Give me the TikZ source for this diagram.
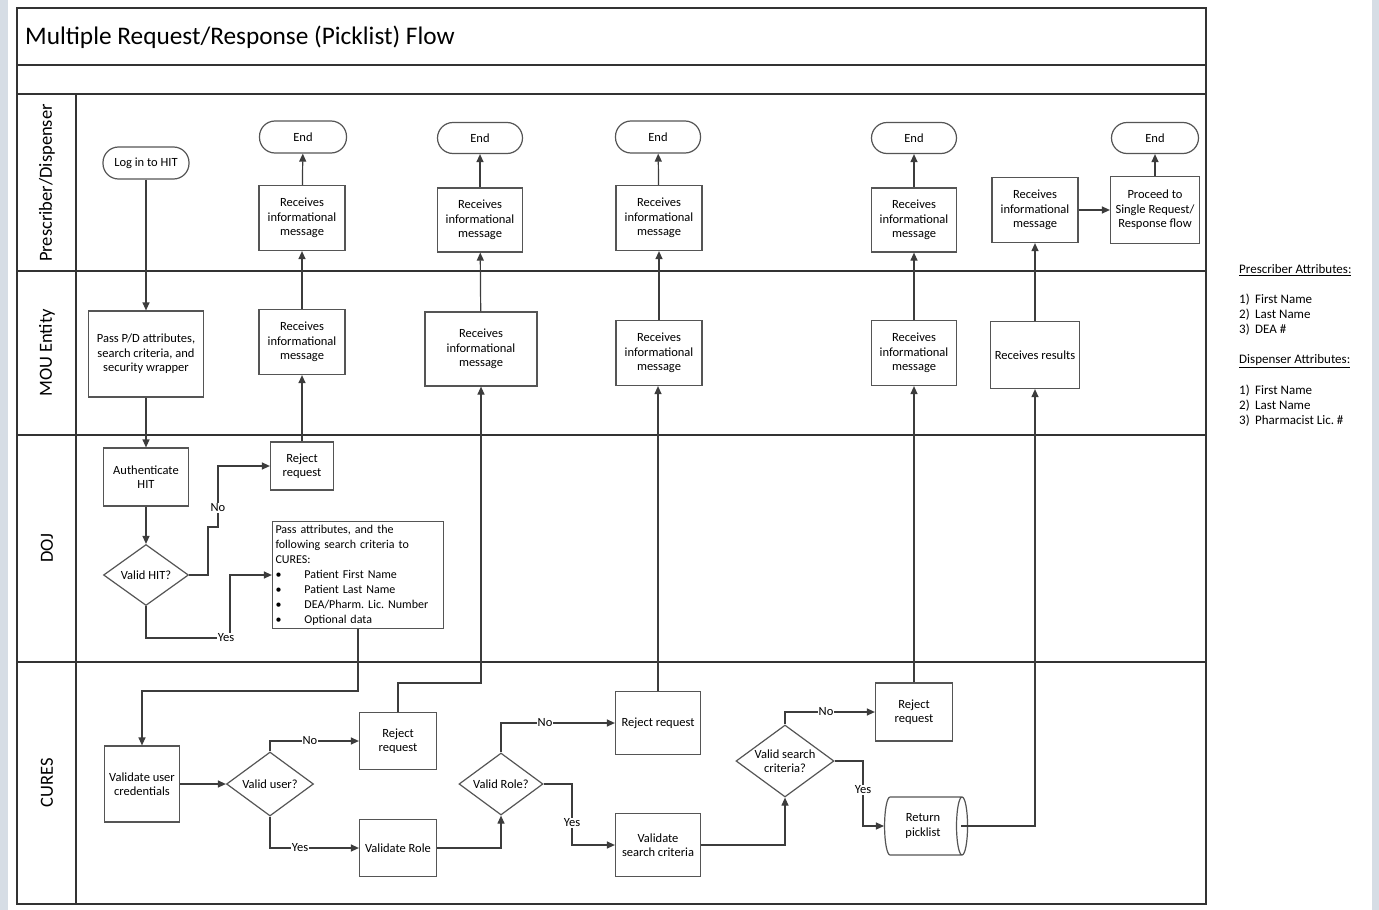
\documentclass[tikz,border=0pt]{standalone}
\usepackage{fontspec}
\setmainfont{Carlito}
\usetikzlibrary{shapes.geometric,arrows.meta,calc}
\frenchspacing
\definecolor{bgside}{HTML}{D6DDE5}
\definecolor{boxline}{HTML}{555555}
\definecolor{conn}{HTML}{3C3C3C}
\definecolor{framec}{HTML}{333333}
\newcommand{\nodefnt}{\fontsize{12.5}{14.5}\selectfont}
\newcommand{\lanefnt}{\fontsize{18.5}{20}\selectfont}
\newcommand{\notefnt}{\fontsize{13}{15.1}\selectfont}
\begin{document}
\begin{tikzpicture}[x=1pt,y=-1pt,
  box/.style={draw=boxline, line width=1.2pt, fill=white, align=center, inner sep=2pt, font=\nodefnt},
  term/.style={box, rounded corners=15.5pt},
  dec/.style={diamond, draw=boxline, line width=1.2pt, fill=white, inner sep=0pt},
  store/.style={cylinder, draw=boxline, line width=1.2pt, fill=white, align=center, inner sep=0pt, font=\nodefnt, aspect=0.45},
  arr/.style={draw=conn, line width=1.2pt, -{Triangle[length=8pt,width=7pt]}},
  lbl/.style={fill=white, inner sep=1pt, font=\nodefnt},
  lane/.style={rotate=90, font=\lanefnt},
  frm/.style={draw=framec, line width=1.4pt}
]
\path[use as bounding box] (0,0) rectangle (1379,910);
\fill[white] (0,0) rectangle (1379,910);
\fill[bgside] (0,0) rectangle (8,910);
\fill[bgside] (1372,0) rectangle (1379,910);

% frame and lanes
\draw[frm] (17,8) rectangle (1206,904);
\draw[frm] (17,65) -- (1206,65);
\draw[frm] (17,94) -- (1206,94);
\draw[frm] (17,271) -- (1206,271);
\draw[frm] (17,435) -- (1206,435);
\draw[frm] (17,662) -- (1206,662);
\draw[frm] (76,94) -- (76,904);

\node[anchor=west, font=\fontsize{25.3}{28}\selectfont, inner sep=0pt] (title) at (25,37) {Multiple Request/Response (Picklist) Flow};

\node[lane] (lane1) at (47,183) {Prescriber/Dispenser};
\node[lane] (lane2) at (47,353) {MOU Entity};
\node[lane] (lane3) at (47,548) {DOJ};
\node[lane] (lane4) at (47,783) {CURES};

% Prescriber/Dispenser lane
\node[term, minimum width=86, minimum height=32] (login) at (146,163) {Log in to HIT};
\node[term, minimum width=87, minimum height=32] (end1) at (303,137) {End};
\node[term, minimum width=85, minimum height=31] (end2) at (480,138) {End};
\node[term, minimum width=85, minimum height=32] (end3) at (658,137) {End};
\node[term, minimum width=85, minimum height=31] (end4) at (914,138) {End};
\node[term, minimum width=87, minimum height=31] (end5) at (1155,138) {End};
\node[box, minimum width=86, minimum height=65] (rp1) at (302,218) {Receives\\informational\\message};
\node[box, minimum width=85, minimum height=64] (rp2) at (480,220) {Receives\\informational\\message};
\node[box, minimum width=86, minimum height=65] (rp3) at (659,218) {Receives\\informational\\message};
\node[box, minimum width=85, minimum height=64] (rp4) at (914,220) {Receives\\informational\\message};
\node[box, minimum width=86, minimum height=65] (rp5) at (1035,210) {Receives\\informational\\message};
\node[box, minimum width=89, minimum height=67] (proceed) at (1155,210) {Proceed to\\Single Request/\\Response flow};

% MOU lane
\node[box, minimum width=115, minimum height=86] (pass) at (146,354) {Pass P/D attributes,\\search criteria, and\\security wrapper};
\node[box, minimum width=86, minimum height=65] (rm1) at (302,342) {Receives\\informational\\message};
\node[box, minimum width=112, minimum height=74] (rm2) at (481,349) {Receives\\informational\\message};
\node[box, minimum width=86, minimum height=65] (rm3) at (659,353) {Receives\\informational\\message};
\node[box, minimum width=85, minimum height=65] (rm4) at (914,353) {Receives\\informational\\message};
\node[box, minimum width=89, minimum height=67] (rres) at (1035,355) {Receives results};

% DOJ lane
\node[box, minimum width=85, minimum height=58] (auth) at (146,477) {Authenticate\\HIT};
\node[dec, minimum width=85, minimum height=61, label={[font=\nodefnt]center:Valid HIT?}] (vhit) at (146,575) {};
\node[box, minimum width=63, minimum height=48] (rejd) at (302,466) {Reject\\request};
\node[box, minimum width=171, minimum height=106, align=left, text width=165, inner sep=3pt, font=\fontsize{12}{15}\selectfont] (passattr) at (358,575)
 {Pass attributes, and the\\following search criteria to\\CURES:\\
  \makebox[29pt][l]{\textbullet}Patient First Name\\
  \makebox[29pt][l]{\textbullet}Patient Last Name\\
  \makebox[29pt][l]{\textbullet}DEA/Pharm. Lic. Number\\
  \makebox[29pt][l]{\textbullet}Optional data};

% CURES lane
\node[box, minimum width=75, minimum height=76] (vuc) at (142,784) {Validate user\\credentials};
\node[dec, minimum width=87, minimum height=64, label={[font=\nodefnt]center:Valid user?}] (vuser) at (270,784) {};
\node[box, minimum width=77, minimum height=57] (rej1) at (398,741) {Reject\\request};
\node[box, minimum width=77, minimum height=57] (vrole) at (398,848) {Validate Role};
\node[dec, minimum width=84, minimum height=62, label={[font=\nodefnt]center:Valid Role?}] (vrd) at (501,784) {};
\node[box, minimum width=85, minimum height=63] (rej2) at (658,723) {Reject request};
\node[box, minimum width=85, minimum height=63] (vsc) at (658,845) {Validate\\search criteria};
\node[dec, minimum width=98, minimum height=72, label={[font=\nodefnt, align=center]center:{Valid search\\criteria?}}] (vsd) at (785,761) {};
\node[box, minimum width=77, minimum height=58] (rej3) at (914,712) {Reject\\request};
\node[store, minimum width=58, minimum height=83] (pick) at (923,826) {Return\\picklist};

% side notes
\node[anchor=north west, align=left, inner sep=0pt, font=\notefnt] (notes) at (1239,264)
 {\underline{Prescriber Attributes:}\\[15.1pt]
  \makebox[16pt][l]{1)}First Name\\
  \makebox[16pt][l]{2)}Last Name\\
  \makebox[16pt][l]{3)}DEA \#\\[15.1pt]
  \underline{Dispenser Attributes:}\\[15.1pt]
  \makebox[16pt][l]{1)}First Name\\
  \makebox[16pt][l]{2)}Last Name\\
  \makebox[16pt][l]{3)}Pharmacist Lic. \#};

% connectors
\draw[arr] (login) -- (pass);
\draw[arr] (pass) -- (auth);
\draw[arr] (auth) -- (vhit);
\draw[arr] (vhit.east) -- (208,575) -- (208,527) -- (218,527) -- (218,466) -- (rejd.west);
\node[lbl] (lno1) at (218,508) {No};
\draw[arr] (vhit.south) |- (230,638) |- (passattr.west);
\node[lbl] (lyes1) at (226,638) {Yes};
\draw[arr] (rejd) -- (rm1);
\draw[arr] (rm1) -- (rp1);
\draw[arr] (rp1) -- (end1);
\draw[arr] (passattr.south) -- (358,691) -| (vuc.north);
\draw[arr] (vuc) -- (vuser);
\draw[arr] (vuser.north) |- (rej1.west);
\node[lbl] (lno2) at (310,741) {No};
\draw[arr] (vuser.south) |- (vrole.west);
\node[lbl] (lyes2) at (300,848) {Yes};
\draw[arr] (vrole.east) -| (vrd.south);
\draw[arr] (vrd.north) |- (rej2.west);
\node[lbl] (lno3) at (545,723) {No};
\draw[arr] (vrd.east) -- (572,784) |- (vsc.west);
\node[lbl] (lyes3) at (572,823) {Yes};
\draw[arr] (vsc.east) -| (vsd.south);
\draw[arr] (vsd.north) |- (rej3.west);
\node[lbl] (lno4) at (826,712) {No};
\draw[arr] (vsd.east) -- (863,761) |- (pick.west);
\node[lbl] (lyes4) at (863,790) {Yes};
\draw[arr] (rej1.north) -- (398,683) -| (rm2.south);
\draw[arr] (rej2.north) -- (rej2.north |- rm3.south);
\draw[arr] (rej3.north) -- (rm4.south);
\draw[arr] (rm2) -- (rp2);
\draw[arr] (rp2) -- (end2);
\draw[arr] (rm3.north) -- (rm3.north |- rp3.south);
\draw[arr] (rp3) -- (end3);
\draw[arr] (rm4) -- (rp4);
\draw[arr] (rp4) -- (end4);
\draw[arr] ($(pick.top)+(-7,0)$) -| (rres.south);
\draw[arr] (rres) -- (rp5);
\draw[arr] (rp5) -- (proceed);
\draw[arr] (proceed) -- (end5);
\end{tikzpicture}
\end{document}
